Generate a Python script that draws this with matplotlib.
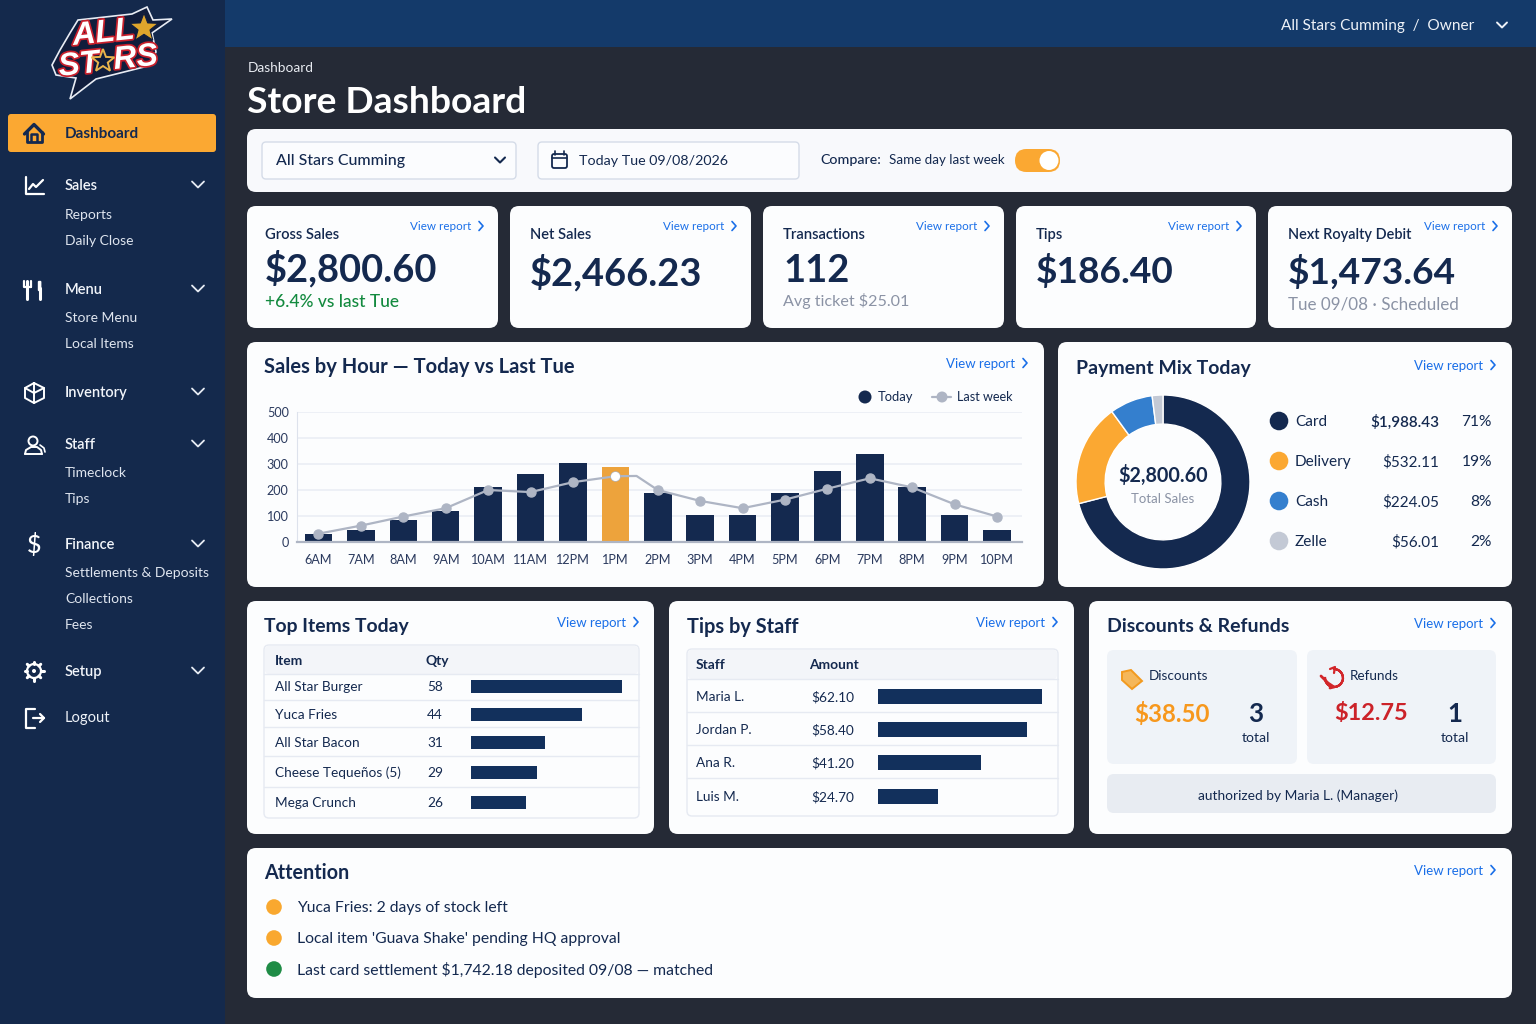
import matplotlib
matplotlib.use("Agg")
import matplotlib.pyplot as plt
import matplotlib.patheffects as pe
import numpy as np
from matplotlib.patches import FancyBboxPatch, Circle, Polygon, Rectangle, Wedge

plt.rcParams['font.family'] = ['Lato', 'DejaVu Sans']

# chart data
hours = ["6AM", "7AM", "8AM", "9AM", "10AM", "11AM", "12PM", "1PM", "2PM", "3PM", "4PM", "5PM", "6PM", "7PM", "8PM", "9PM", "10PM"]
today = [30, 48, 85, 120, 212, 260, 302, 288, 187, 105, 105, 188, 272, 338, 212, 105, 48]
last_week = [32, 63, 98, 130, 200, 192, 230, 253, 200, 158, 130, 163, 205, 245, 210, 145, 98]
y_ticks = [0, 100, 200, 300, 400, 500]

pay_names = ["Card", "Delivery", "Cash", "Zelle"]
pay_amounts = [1988.43, 532.11, 224.05, 56.01]
pay_labels = ["$1,988.43", "$532.11", "$224.05", "$56.01"]
pay_pct = ["71%", "19%", "8%", "2%"]

item_names = ["All Star Burger", "Yuca Fries", "All Star Bacon", "Cheese Tequeños (5)", "Mega Crunch"]
item_qty = ["58", "44", "31", "29", "26"]
item_bars = [58, 42.6, 28.4, 25.3, 21]

staff_names = ["Maria L.", "Jordan P.", "Ana R.", "Luis M."]
staff_tips = ["$62.10", "$58.40", "$41.20", "$24.70"]
staff_bars = [62.1, 56.4, 39, 22.7]

NAVY = "#14294f"
ORANGE = "#fba832"
BLUE = "#1a6fe8"
GREY = "#8b93a5"
GREYLINE = "#aeb5c4"
CARD = "#fcfdfe"
W, H = 1536, 1024

fig = plt.figure(figsize=(W / 100, H / 100), dpi=100, facecolor="#252a36")
ui = fig.add_axes([0, 0, 1, 1])
ui.set_xlim(0, W)
ui.set_ylim(H, 0)
ui.axis("off")


def box(x0, y0, x1, y1, color=CARD, r=9, ec="none", lw=0, z=1):
    p = FancyBboxPatch((x0 + r, y0 + r), x1 - x0 - 2 * r, y1 - y0 - 2 * r,
                       boxstyle=f"round,pad={r},rounding_size={r}",
                       fc=color, ec=ec, lw=lw, zorder=z)
    ui.add_patch(p)


def txt(x, y, s, px=15, color=NAVY, weight="normal", ha="left", z=5, **kw):
    return ui.text(x, y + 0.8, s, fontsize=px * 0.72, color=color, fontweight=weight,
                   ha=ha, va="center", zorder=z, **kw)


def line(xs, ys, color="white", lw=1.6, z=6):
    ui.plot(xs, ys, color=color, lw=lw, solid_capstyle="round", solid_joinstyle="round", zorder=z)


def chevron(x, y, size=5, color="white", lw=1.5):
    line([x - size, x, x + size], [y - size / 2, y + size / 2, y - size / 2], color, lw)


def view_report(x_right, y, px=13.2):
    txt(x_right - 12, y, "View report", px, BLUE, ha="right")
    line([x_right - 4, x_right, x_right - 4], [y - 4.5, y, y + 4.5], BLUE, 1.2)


def sub_axes(x0, y0, x1, y1):
    a = fig.add_axes([x0 / W, 1 - y1 / H, (x1 - x0) / W, (y1 - y0) / H])
    a.patch.set_alpha(0)
    return a


def star(cx, cy, r, color, ec="none", lw=0, rot=0, z=7):
    ang = np.radians(np.arange(10) * 36 - 90 + rot)
    rad = np.where(np.arange(10) % 2 == 0, r, r * 0.42)
    ui.add_patch(Polygon(np.c_[cx + rad * np.cos(ang), cy + rad * np.sin(ang)],
                         fc=color, ec=ec, lw=lw, zorder=z))


# sidebar + top bar
ui.add_patch(Rectangle((0, 0), 225, H, fc="#14294c", zorder=0.5))
ui.add_patch(Rectangle((225, 0), W - 225, 47, fc="#143a6a", zorder=0.5))
txt(1474, 25, "All Stars Cumming  /  Owner", 15.4, "#eef2f8", ha="right")
chevron(1502, 25, 5, "#eef2f8", 1.4)

# logo
ui.add_patch(Polygon([(78, 20), (132, 14), (147, 7), (153, 20), (172, 19), (152, 33), (156, 52), (148, 66),
                      (96, 79), (70, 99), (76, 78), (56, 75), (52, 65), (60, 50), (70, 33)],
                     fc="#101d3c", ec="#e8ecf4", lw=1.2, zorder=2))
logo_fx = [pe.withStroke(linewidth=2.5, foreground="#c8202c")]
txt(71, 33, "ALL", 32, "white", "bold", style="italic", rotation=6, path_effects=logo_fx, family="Liberation Sans")
txt(57, 65, "ST", 32, "white", "bold", style="italic", rotation=6, path_effects=logo_fx, family="Liberation Sans")
txt(112, 58, "RS", 32, "white", "bold", style="italic", rotation=6, path_effects=logo_fx, family="Liberation Sans")
star(103, 61, 12, "#101d3c", "#e9b44c", 1.4)
star(144, 28, 15, "#dfa52c", "#101d3c", 0.8)

# side menu
box(8, 114, 216, 152, ORANGE, r=3)
txt(65, 133, "Dashboard", 15.2, NAVY, "bold")
menu_heads = [("Sales", 185), ("Menu", 289), ("Inventory", 392), ("Staff", 444), ("Finance", 544), ("Setup", 671)]
for name, y in menu_heads:
    txt(65, y, name, 14.6, "#f2f5fa", "semibold")
    chevron(198, y - 0.5, 6, "#e6ebf3", 1.3)
menu_subs = [("Reports", 214), ("Daily Close", 240), ("Store Menu", 317), ("Local Items", 343), ("Timeclock", 472),
             ("Tips", 498), ("Settlements & Deposits", 572), ("Collections", 598), ("Fees", 624)]
for name, y in menu_subs:
    txt(65, y, name, 13.9, "#dfe5ef")
txt(65, 717, "Logout", 14.7, "#eef2f8")

# side icons
line([26.5, 26.5, 41.5, 41.5], [132, 141.5, 141.5, 132], NAVY, 2)
line([24.5, 34, 43.5], [134, 124.5, 134], NAVY, 2.4)
line([31, 31, 37, 37], [141, 134, 134, 141], NAVY, 1.8)
line([26, 26, 44], [177, 194, 194])
line([29, 33, 36, 43], [189, 184, 187, 180])
line([27, 27], [281, 299], lw=2.2)
line([31, 31], [281, 287], lw=1.6)
line([24, 24, 31], [281, 287, 287], lw=1.6)
ui.add_patch(FancyBboxPatch((39, 282), 1.2, 8, boxstyle="round,pad=1.2", fc="white", ec="none", zorder=6))
line([40, 40], [288, 299], lw=2.2)
line([34, 44, 44, 34, 25, 25, 34, 34], [383, 388, 398, 403, 398, 388, 383, 393], lw=1.4)
line([25, 34, 44], [388, 393, 388], lw=1.4)
line([34, 34], [393, 403], lw=1.4)
ui.add_patch(Circle((33, 441), 4.5, fc="none", ec="white", lw=1.4, zorder=6))
line([25, 26, 31, 37, 41, 42], [454, 450, 447, 447, 450, 454], lw=1.4)
line([25, 42], [454, 454], lw=1.4)
line([40, 44, 45], [445, 448, 452], lw=1.2)
txt(34, 544, "$", 25, "white", "medium", ha="center")
ui.add_patch(Circle((34, 671), 7, fc="none", ec="white", lw=1.6, zorder=6))
ui.add_patch(Circle((34, 671), 2, fc="white", ec="none", zorder=6))
for a in np.arange(0, 360, 45):
    ca, sa = np.cos(np.radians(a)), np.sin(np.radians(a))
    line([34 + 7 * ca, 34 + 9.5 * ca], [671 + 7 * sa, 671 + 9.5 * sa], lw=2.2)
line([35, 26, 26, 35], [709, 709, 728, 728])
line([33, 44], [718, 718])
line([40, 44, 40], [714, 718, 722])

# header
txt(248, 67, "Dashboard", 13.6, "#e8ebf1")
txt(247, 102, "Store Dashboard", 37.2, "white", "bold")

# filter strip
box(247, 129, 1512, 192, "#f8f9fc")
box(262, 142, 516, 179, "#fbfcfe", r=4, ec="#d5dce8", lw=1, z=2)
txt(276, 160, "All Stars Cumming", 15.9, NAVY, "medium")
chevron(500, 160, 5, NAVY, 1.5)
box(538, 142, 799, 179, "#fbfcfe", r=4, ec="#d5dce8", lw=1, z=2)
box(552, 154, 567, 168, "none", r=2, ec=NAVY, lw=1.3, z=3)
line([552, 567], [158, 158], NAVY, 1.2)
line([555, 555], [151, 155], NAVY, 1.2)
line([564, 564], [151, 155], NAVY, 1.2)
txt(579, 160, "Today Tue 09/08/2026", 14.2, NAVY)
txt(820, 159, "Compare:", 14.2, NAVY, "medium")
txt(889, 159, "Same day last week", 13.4, NAVY)
box(1015, 149, 1060, 172, ORANGE, r=11.4, z=2)
ui.add_patch(Circle((1049, 160.5), 9.5, fc="white", zorder=3))

# KPI cards
kpi_boxes = [(247, 498), (510, 751), (763, 1004), (1016, 1256), (1268, 1512)]
for (x0, x1) in kpi_boxes:
    box(x0, 206, x1, 328, CARD)
    view_report(x1 - 15, 226, 11.6)
txt(265, 234, "Gross Sales", 14.8, NAVY, "semibold")
txt(265, 268, "$2,800.60", 38, NAVY, "bold")
txt(265, 301, "+6.4% vs last Tue", 17.4, "#138a3f", "medium")
txt(530, 234, "Net Sales", 14.8, NAVY, "semibold")
txt(530, 272, "$2,466.23", 38, NAVY, "bold")
txt(783, 234, "Transactions", 14.8, NAVY, "semibold")
txt(783, 270, "112", 38, NAVY, "bold")
txt(783, 300, "Avg ticket $25.01", 16.1, GREY)
txt(1036, 234, "Tips", 14.8, NAVY, "semibold")
txt(1036, 271, "$186.40", 37, NAVY, "bold")
txt(1288, 234, "Next Royalty Debit", 14.5, NAVY, "semibold")
txt(1288, 271, "$1,473.64", 37, NAVY, "bold")
txt(1288, 304, "Tue 09/08 · Scheduled", 17, GREY)

# sales by hour
box(247, 342, 1044, 587, CARD)
txt(264, 366, "Sales by Hour — Today vs Last Tue", 20.1, NAVY, "bold")
view_report(1027, 363)
ui.add_patch(Circle((865, 397), 6.5, fc=NAVY, zorder=5))
txt(878, 396, "Today", 13, NAVY)
line([932, 951], [397, 397], GREYLINE, 1.6)
ui.add_patch(Circle((942, 397), 5.5, fc=GREYLINE, zorder=7))
txt(957, 396, "Last week", 12.6, NAVY)

ax = sub_axes(297, 412, 1022, 542)
x = np.arange(len(hours))
bar_cols = [NAVY] * len(hours)
bar_cols[hours.index("1PM")] = "#eda33c"
ax.bar(x, today, width=0.65, color=bar_cols, zorder=2)
# the line runs flat for a bit after 1PM before dropping
line_x = np.insert(x.astype(float), 8, 7.5)
line_y = np.insert(np.array(last_week, dtype=float), 8, 254)
ax.plot(line_x, line_y, color=GREYLINE, lw=1.6, zorder=3)
ax.plot(x, last_week, "o", color=GREYLINE, ms=6.5, zorder=4, ls="none")
ax.plot(x[7], last_week[7], "o", color="white", ms=5.5, zorder=5)
ax.set_xlim(-0.507, 16.59)
ax.set_ylim(0, 500)
ax.set_xticks(x, hours)
ax.set_yticks(y_ticks)
ax.tick_params(length=0, labelsize=9.1, labelcolor="#2b3a5e", pad=9)
ax.tick_params(axis="y", pad=6)
ax.grid(axis="y", color="#edf0f6", lw=1.4, zorder=0)
ax.set_axisbelow(True)
for s in ["top", "right"]:
    ax.spines[s].set_visible(False)
ax.spines["left"].set_color("#dde2ec")
ax.spines["bottom"].set_color("#aeb5c4")
ax.spines["bottom"].set_linewidth(1.6)

# payment mix
box(1058, 342, 1512, 587, CARD)
txt(1076, 368, "Payment Mix Today", 19.5, NAVY, "bold")
view_report(1495, 365)
pay_cols = [NAVY, ORANGE, "#347fce", "#c3c9d5"]
ax2 = sub_axes(1163 - 87, 482 - 87, 1163 + 87, 482 + 87)
ax2.pie(pay_amounts, colors=pay_cols, startangle=90, counterclock=False, radius=1,
        wedgeprops=dict(width=0.335, edgecolor="white", linewidth=1))
ax2.set_xlim(-1, 1)
ax2.set_ylim(-1, 1)
txt(1163, 475, "$2,800.60", 19.8, NAVY, "bold", ha="center")
txt(1163, 498, "Total Sales", 13.2, GREY, ha="center")
pay_rows = [421, 461, 501, 541]
for i, y in enumerate(pay_rows):
    ui.add_patch(Circle((1279, y), 9.3, fc=pay_cols[i], zorder=5))
    txt(1295, y, pay_names[i], 15.4, NAVY)
    txt(1439, y, pay_labels[i], 15.2, NAVY, "semibold" if i == 0 else "normal", ha="right")
    txt(1492, y, pay_pct[i], 15.5, NAVY, ha="right")

# top items
box(247, 601, 654, 834, CARD)
txt(264, 626, "Top Items Today", 19.4, NAVY, "bold")
view_report(638, 622)
box(264, 645, 639, 818, "#fcfdfe", r=5, ec="#e6eaf2", lw=1, z=2)
box(265, 646, 638, 674, "#f3f5f9", r=4, z=2)
txt(275, 660, "Item", 13.8, NAVY, "bold")
txt(426, 660, "Qty", 13.8, NAVY, "bold")
for y in [674, 700, 727, 756, 787]:
    line([264, 639], [y, y], "#e6eaf2", 1, z=3)
item_rows = [686.5, 714, 742, 772, 802]
for i, y in enumerate(item_rows):
    txt(275, y, item_names[i], 13.6, NAVY)
    txt(443, y, item_qty[i], 13.6, NAVY, ha="right")
ax3 = sub_axes(471, 674, 622, 818)
ax3.barh(item_rows, item_bars, height=13, color="#12305c")
ax3.set_xlim(0, 58)
ax3.set_ylim(818, 674)
ax3.axis("off")

# tips by staff
box(669, 601, 1074, 834, CARD)
txt(687, 626, "Tips by Staff", 20, NAVY, "bold")
view_report(1057, 622)
box(687, 649, 1058, 816, "#fcfdfe", r=5, ec="#e6eaf2", lw=1, z=2)
box(688, 650, 1057, 679, "#f3f5f9", r=4, z=2)
txt(696, 664, "Staff", 13.8, NAVY, "bold")
txt(809, 664, "Amount", 13.8, NAVY, "bold")
for y in [679, 712, 745, 778]:
    line([687, 1058], [y, y], "#e6eaf2", 1, z=3)
staff_rows = [696, 729, 762, 796]
for i, y in enumerate(staff_rows):
    txt(696, y, staff_names[i], 13.6, NAVY)
    txt(854, y, staff_tips[i], 13.6, NAVY, ha="right")
ax4 = sub_axes(878, 679, 1042, 816)
ax4.barh(staff_rows, staff_bars, height=15, color="#12305c")
ax4.set_xlim(0, 62.1)
ax4.set_ylim(816, 679)
ax4.axis("off")

# discounts + refunds
box(1089, 601, 1512, 834, CARD)
txt(1107, 626, "Discounts & Refunds", 19.5, NAVY, "bold")
view_report(1495, 623)
box(1107, 650, 1297, 764, "#eff3f8", r=7, z=2)
box(1307, 650, 1496, 764, "#eff3f8", r=7, z=2)
box(1107, 774, 1496, 813, "#e8ecf2", r=7, z=2)
ui.add_patch(Polygon([(1122, 672), (1131, 670), (1142, 681), (1132, 689), (1122, 680)], fc="#f5b75a", ec="#f29a1f", lw=1.4, zorder=5))
txt(1149, 675, "Discounts", 13.5, NAVY)
ui.add_patch(Wedge((1334, 678), 9, -90, 180, width=0.1, fc="none", ec="#d2262a", lw=1.6, zorder=5))
line([1321, 1328, 1334, 1330], [676, 683, 687, 688], "#d2262a", 2)
line([1330, 1335, 1334], [669, 667, 673], "#d2262a", 1.6)
txt(1350, 675, "Refunds", 13.5, NAVY)
txt(1172, 713, "$38.50", 24, "#f7981d", "bold", ha="center")
txt(1256, 713, "3", 26, NAVY, "bold", ha="center")
txt(1256, 737, "total", 14, NAVY, ha="center")
txt(1371, 713, "$12.75", 23.5, "#cc2229", "bold", ha="center")
txt(1455, 713, "1", 26, NAVY, "bold", ha="center")
txt(1455, 737, "total", 14, NAVY, ha="center")
txt(1298, 795, "authorized by Maria L. (Manager)", 13.7, NAVY, ha="center")

# attention
box(247, 848, 1512, 998, CARD)
txt(264, 872, "Attention", 19.8, NAVY, "bold")
view_report(1495, 870)
attn_msgs = ["Yuca Fries: 2 days of stock left", "Local item 'Guava Shake' pending HQ approval",
             "Last card settlement $1,742.18 deposited 09/08 — matched"]
attn_cols = ["#f9a82f", "#f9a82f", "#1f8c46"]
for msg, col, y in zip(attn_msgs, attn_cols, [907, 938, 969]):
    ui.add_patch(Circle((274, y), 7.8, fc=col, zorder=5))
    txt(297, y, msg, 15.8, NAVY)

fig.savefig("out.png", dpi=100, facecolor=fig.get_facecolor())
